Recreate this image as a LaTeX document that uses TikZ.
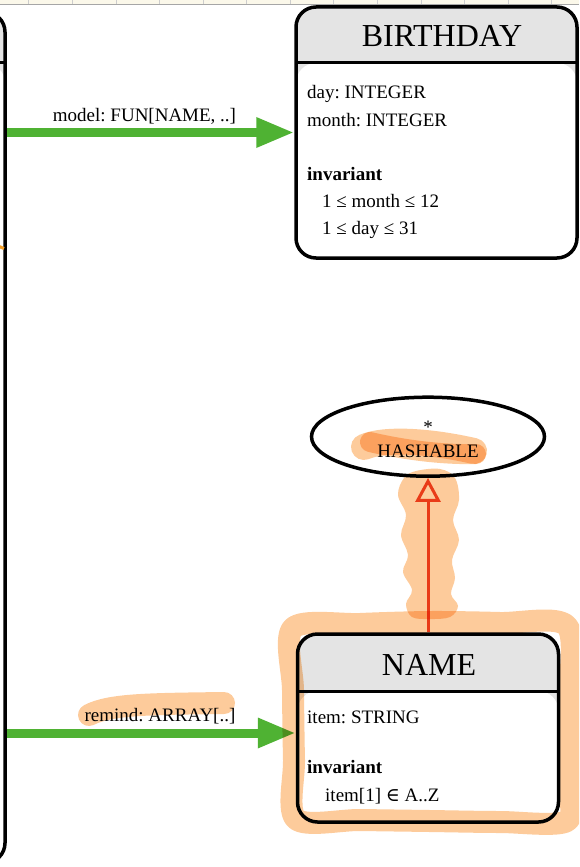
\documentclass[tikz,border=0pt]{standalone}
\usepackage{fontspec}
\setmainfont{Liberation Serif}
\newfontfamily\symserif{DejaVu Serif}
\usetikzlibrary{arrows.meta,shapes.geometric}
\frenchspacing

\definecolor{hdrgray}{RGB}{228,228,228}
\definecolor{assocgreen}{RGB}{79,178,51}
\definecolor{inheritred}{RGB}{235,75,40}
\definecolor{hilite}{RGB}{253,203,155}
\definecolor{markorange}{RGB}{245,160,40}
\definecolor{stripcream}{RGB}{251,248,234}
\definecolor{stripline}{RGB}{205,205,205}

\tikzset{
  classbox/.style={draw, line width=3.5pt, rounded corners=20pt, fill=hdrgray,
    inner sep=0pt,
    path picture={
      \fill[white] ([yshift=-#1]path picture bounding box.north west)
        rectangle (path picture bounding box.south east);
      \draw[line width=3pt] ([yshift=-#1]path picture bounding box.north west)
        -- ([yshift=-#1]path picture bounding box.north east);
    }},
  clstitle/.style={anchor=base, inner sep=0pt, font=\fontsize{32}{36}\selectfont},
  bodytxt/.style={anchor=base west, inner sep=0pt},
  edgelabel/.style={anchor=base, inner sep=0pt},
  assoc/.style={draw=assocgreen, line width=9pt,
    -{Triangle[length=38pt,width=28pt]}},
  inherit/.style={draw=inheritred, line width=3pt,
    -{Triangle[length=24pt,width=25pt,fill=white]}},
  marker/.style={draw=hilite, line width=#1, line cap=round, line join=round},
}

\begin{document}
\begin{tikzpicture}[x=1pt,y=-1pt,font=\fontsize{19}{27}\selectfont]
\useasboundingbox (0,0) rectangle (579,867);
\clip (0,0) rectangle (579,867);

% window strip along the top edge
\fill[stripcream] (0,0) rectangle (579,4.4);
\foreach \i in {0,...,12}
  \draw[stripline, line width=0.8pt] ({28.8+43.57*\i},0) -- ({28.8+43.57*\i},4.4);
\draw[gray!70, line width=0.8pt] (0,4.4) -- (579,4.4);

% classes
\node[classbox=51pt, minimum width=205pt, minimum height=851pt] (reminder) at (-97.5,437.5) {};
\node[classbox=56pt, minimum width=281pt, minimum height=251pt] (birthday) at (436.5,132.5) {};
\node[classbox=57pt, minimum width=261pt, minimum height=188pt] (name) at (428,728) {};
\node[draw, ellipse, line width=3.5pt, inner sep=0pt,
      minimum width=233pt, minimum height=79pt] (hashable) at (428,436.7) {};

% BIRTHDAY contents
\node[clstitle] (birthdaytitle) at (442,47) {BIRTHDAY};
\node[bodytxt] (bdday) at (307,99) {day: INTEGER};
\node[bodytxt] (bdmonth) at (307,126) {month: INTEGER};
\node[bodytxt] (bdinv) at (307,180) {\bfseries invariant};
\node[bodytxt] (bdinvone) at (322,207) {1 ≤ month ≤ 12};
\node[bodytxt] (bdinvtwo) at (322,234) {1 ≤ day ≤ 31};

% NAME contents
\node[clstitle] (nametitle) at (429,675) {NAME};
\node[bodytxt] (nmitem) at (307,723) {item: STRING};
\node[bodytxt] (nminv) at (307,773) {\bfseries invariant};
\node[bodytxt] (nminvone) at (325,801) {item[1] {\symserif ∈} A..Z};

% HASHABLE contents
\node[edgelabel] (hashstar) at (428,433) {*};
\node[edgelabel] (hashtitle) at (428,457) {HASHABLE};

% associations
\coordinate (nmin) at ([yshift=-5pt]name.west);
\draw[assoc] (reminder.east |- birthday.west) -- (birthday.west);
\draw[assoc] (reminder.east |- nmin) -- (nmin);
\node[edgelabel] (modellabel) at (144.5,121) {model: FUN[NAME, ..]};
\node[edgelabel] (remindlabel) at (160,721) {remind: ARRAY[..]};

% inheritance
\draw[inherit] (name.north) -- (hashable.south);

% highlighter strokes
\begin{scope}[blend mode=multiply]
  \draw[marker=22pt] plot[smooth cycle, tension=0.5] coordinates {
    (293,628) (360,624) (430,622) (500,623) (567,626) (569,700) (568,780)
    (567,821) (500,822) (430,821) (360,820) (296,819) (294,760) (293,690)};
  \fill[hilite] plot[smooth cycle, tension=0.6] coordinates {
    (416,471) (440,469) (455,478) (459,500) (453,520) (459,540) (452,560)
    (455,578) (451,594) (458,606) (450,617) (430,619) (412,617) (406,604)
    (412,590) (403,572) (408,555) (401,535) (406,515) (398,495) (404,478)};
  \draw[marker=26pt] (364,447) .. controls (385,438) and (430,441) .. (474,451);
  \draw[marker=20pt] (370,442) .. controls (400,449) and (440,455) .. (476,454);
  \draw[marker=22pt] (89,715) .. controls (110,704) and (150,704) .. (224,703);
\end{scope}
\draw[markorange, line width=3pt] (-2,246) -- (4,248.5);
\end{tikzpicture}
\end{document}
